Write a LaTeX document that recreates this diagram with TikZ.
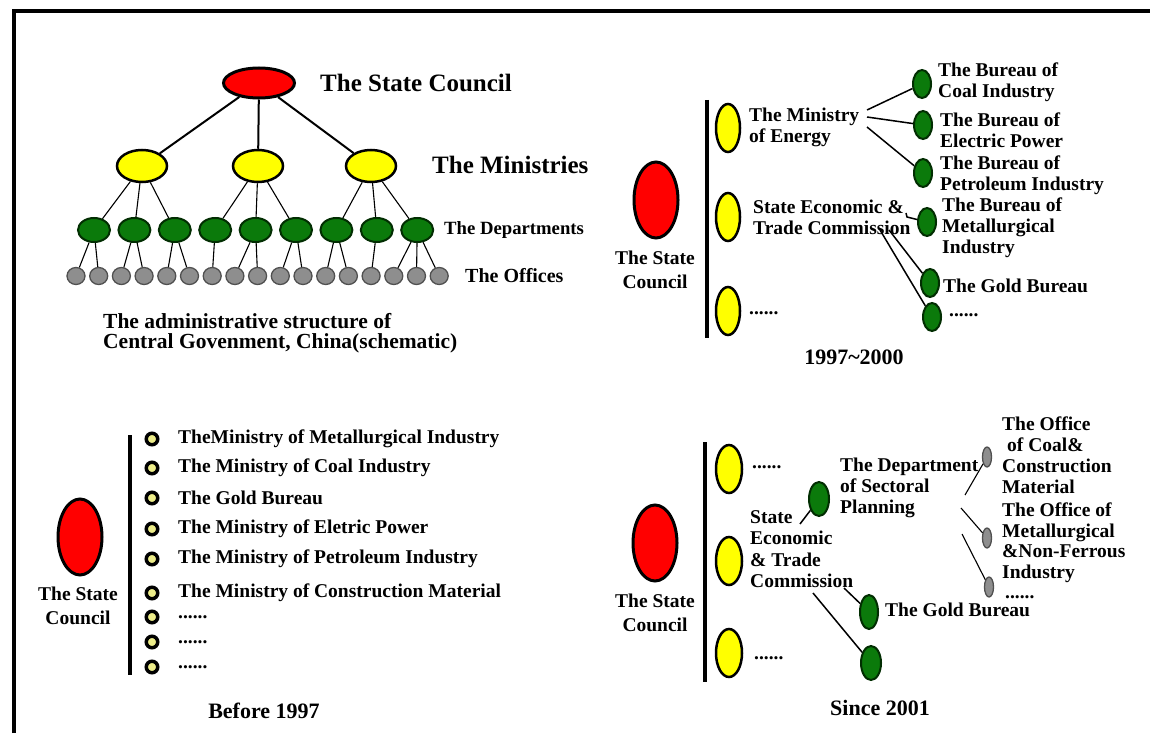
\documentclass[tikz,border=0pt]{standalone}
\usepackage{fontspec}
\setmainfont{Liberation Serif}
\usetikzlibrary{positioning,shapes.geometric}
\definecolor{councilFill}{HTML}{FF0000}
\definecolor{ministryFill}{HTML}{FFFF00}
\definecolor{deptFill}{HTML}{0B7A0B}
\definecolor{deptDraw}{HTML}{022E02}
\definecolor{officeFill}{HTML}{8E8E8E}
\definecolor{officeDraw}{HTML}{505050}
\definecolor{bulletFill}{HTML}{EDED8A}
\tikzset{
  oval/.style    ={ellipse, inner sep=0pt, draw=black},
  council/.style ={oval, fill=councilFill, line width=3pt},
  ministry/.style={oval, fill=ministryFill, line width=2.5pt},
  dept/.style    ={oval, fill=deptFill, draw=deptDraw, line width=2pt},
  office/.style  ={oval, fill=officeFill, draw=officeDraw, line width=1.3pt},
  bullet/.style  ={circle, inner sep=0pt, minimum size=11.5pt, fill=bulletFill, draw=black, line width=3.5pt},
  lbl/.style     ={anchor=west, inner sep=0pt, align=left, font=\bfseries\fontsize{19.5}{21}\selectfont},
  big/.style     ={lbl, font=\bfseries\fontsize{25}{27}\selectfont},
  caption/.style ={lbl, font=\bfseries\fontsize{21.5}{20.5}\selectfont},
  year/.style    ={inner sep=0pt, font=\bfseries\fontsize{22}{24}\selectfont},
  council lbl/.style={inner sep=0pt, align=center, font=\bfseries\fontsize{19.5}{24}\selectfont},
  trunk/.style   ={line width=2pt},
  twig/.style    ={line width=1.1pt},
  link/.style    ={line width=1.5pt},
  bar/.style     ={line width=4pt},
}
\begin{document}
\begin{tikzpicture}[x=1pt, y=-1pt]
  \fill[white] (0,0) rectangle (1150,733);
  \useasboundingbox (0,0) rectangle (1150,733);
  \coordinate (fl) at (14,733);
  \coordinate (fc) at (14,11);
  \coordinate (fr) at (1150,11);
  \draw[line width=4pt] (fl) -- (fc) -- (fr);

  % schematic hierarchy
  \node[council, minimum width=71pt, minimum height=30pt] (sc) at (259,83) {};
  \node[big] (scl) at (320,83) {The State Council};
  \foreach \i/\x in {1/142, 2/258, 3/371}
    \node[ministry, minimum width=50pt, minimum height=32pt] (m\i) at (\x,166) {};
  \node[big] (ml) at (432,165) {The Ministries};
  \foreach \i in {1,...,9}
    \node[dept, minimum width=32pt, minimum height=24pt] (d\i) at ({94+40.4*(\i-1)},230) {};
  \node[lbl, font=\bfseries\fontsize{18.7}{20}\selectfont] (dl) at (444,230) {The Departments};
  \foreach \i in {0,...,16}
    \node[office, minimum width=18pt, minimum height=17pt] (o\i) at ({76+22.7*\i},276) {};
  \node[lbl, font=\bfseries\fontsize{20}{22}\selectfont] (ol) at (465,276) {The Offices};
  \foreach \i in {1,2,3} \draw[trunk] (sc) -- (m\i);
  \foreach \m/\d in {1/1,1/2,1/3,2/4,2/5,2/6,3/7,3/8,3/9} \draw[twig] (m\m) -- (d\d);
  \foreach \d/\o in {1/0,1/1,2/2,2/3,3/4,3/5,4/6,5/7,5/8,6/9,6/10,7/11,7/12,8/13,9/14,9/15,9/16}
    \draw[twig] (d\d) -- (o\o);
  \node[caption] (cap) at (103,333) {The administrative structure of\\Central Govenment, China(schematic)};

  % 1997~2000
  \node[council, minimum width=44pt, minimum height=76pt] (scB) at (656,200) {};
  \node[council lbl] (scBl) at (655,270) {The State\\Council};
  \coordinate (barBt) at (707,100);
  \coordinate (barBb) at (707,338);
  \draw[bar] (barBt) -- (barBb);
  \foreach \i/\y in {1/128, 2/217, 3/311}
    \node[ministry, minimum width=24pt, minimum height=48pt] (mB\i) at (728,\y) {};
  \node[lbl] (energy) at (749,127) {The Ministry\\of Energy};
  \node[lbl] (setcB) at (753,217.5) {State Economic \&\\Trade Commission};
  \node[lbl] (dotsB) at (749,313) {......};
  \foreach \i/\x/\y in {1/922/84, 2/923/125, 3/923/173, 4/927/222, 5/930/283, 6/932/317}
    \node[dept, minimum width=18pt, minimum height=28pt] (bu\i) at (\x,\y) {};
  \node[lbl] (coal)  at (938,82.5) {The Bureau of\\Coal Industry};
  \node[lbl] (elec)  at (940,130)  {The Bureau of\\Electric Power};
  \node[lbl] (petro) at (940,175.5) {The Bureau of\\Petroleum Industry};
  \node[lbl] (metal) at (942,228)  {The Bureau of\\Metallurgical\\Industry};
  \node[lbl] (goldB) at (943,286)  {The Gold Bureau};
  \node[lbl] (dotsB2) at (949,315) {......};
  \coordinate (en1) at (867,110);
  \coordinate (en2) at (867,117);
  \coordinate (en3) at (867,127);
  \draw[link] (en1) -- (bu1);
  \draw[link] (en2) -- (bu2);
  \draw[link] (en3) -- (bu3);
  \coordinate (hk1) at (906,213);
  \coordinate (hk2) at (907,217);
  \draw[link] (hk1) -- (hk2) -- (bu4);
  \coordinate (cm1) at (880,230);
  \coordinate (cm2) at (889,230);
  \draw[link] (cm2) -- (bu5);
  \draw[link] (cm1) -- (bu6);
  \node[year] (yrB) at (854,357) {1997\textasciitilde2000};

  % before 1997
  \node[council, minimum width=44pt, minimum height=76pt] (scA) at (80,537) {};
  \node[council lbl] (scAl) at (78,605.5) {The State\\Council};
  \coordinate (barAt) at (130,435);
  \coordinate (barAb) at (130,675);
  \draw[bar] (barAt) -- (barAb);
  \foreach \i/\y/\t in {1/439/{TheMinistry of Metallurgical Industry},
                        2/468/{The Ministry of Coal Industry},
                        3/498/{The Gold Bureau},
                        4/529/{The Ministry of Eletric Power},
                        5/559/{The Ministry of Petroleum Industry},
                        6/593/{The Ministry of Construction Material},
                        7/617/{......}, 8/642/{......}, 9/667/{......}}{
    \node[bullet] (b\i) at (152,\y) {};
    \node[lbl] (bl\i) at (178,\y) {\t};
  }
  \node[year] (yrA) at (264,711) {Before 1997};

  % since 2001
  \node[council, minimum width=44pt, minimum height=76pt] (scC) at (655,543) {};
  \node[council lbl] (scCl) at (655,612.5) {The State\\Council};
  \coordinate (barCt) at (705,442);
  \coordinate (barCb) at (705,682);
  \draw[bar] (barCt) -- (barCb);
  \foreach \i/\y in {1/469, 2/561, 3/653}
    \node[ministry, minimum width=26pt, minimum height=48pt] (mC\i) at (729,\y) {};
  \node[lbl] (dotsC1) at (752,467) {......};
  \node[lbl] (dotsC3) at (754,658) {......};
  \node[lbl, font=\bfseries\fontsize{19.5}{21.3}\selectfont] (setcC) at (750,549) {State\\Economic\\\& Trade\\Commission};
  \node[dept, minimum width=20pt, minimum height=34pt] (dsp) at (819,499) {};
  \node[lbl] (dspl) at (840,487.5) {The Department\\of Sectoral\\Planning};
  \coordinate (st) at (800,524);
  \draw[link] (st) -- (dsp);
  \foreach \i/\x/\y in {1/987/457, 2/987/538, 3/989/587}
    \node[office, minimum width=9pt, minimum height=20pt] (of\i) at (\x,\y) {};
  \coordinate (dp1) at (965,495);
  \coordinate (dp2) at (961,508);
  \coordinate (dp3) at (962,534);
  \draw[twig] (dp1) -- (of1);
  \draw[twig] (dp2) -- (of2);
  \draw[twig] (dp3) -- (of3);
  \node[lbl] (ofl1) at (1002,455.5) {The Office\\\hspace{5pt}of Coal\&\\Construction\\Material};
  \node[lbl, font=\bfseries\fontsize{19.5}{20.5}\selectfont] (ofl2) at (1002,542.5) {The Office of\\Metallurgical\\\&Non-Ferrous\\Industry};
  \node[lbl] (dotsC4) at (1005,597) {......};
  \node[dept, minimum width=18pt, minimum height=34pt] (goldC) at (869,612) {};
  \node[lbl] (goldCl) at (885,610) {The Gold Bureau};
  \node[dept, minimum width=20pt, minimum height=34pt] (moreC) at (871,663) {};
  \coordinate (cc1) at (844,588);
  \coordinate (cc2) at (813,593);
  \draw[link] (cc1) -- (goldC);
  \draw[link] (cc2) -- (moreC);
  \node[year] (yrC) at (880,708) {Since 2001};
\end{tikzpicture}
\end{document}
